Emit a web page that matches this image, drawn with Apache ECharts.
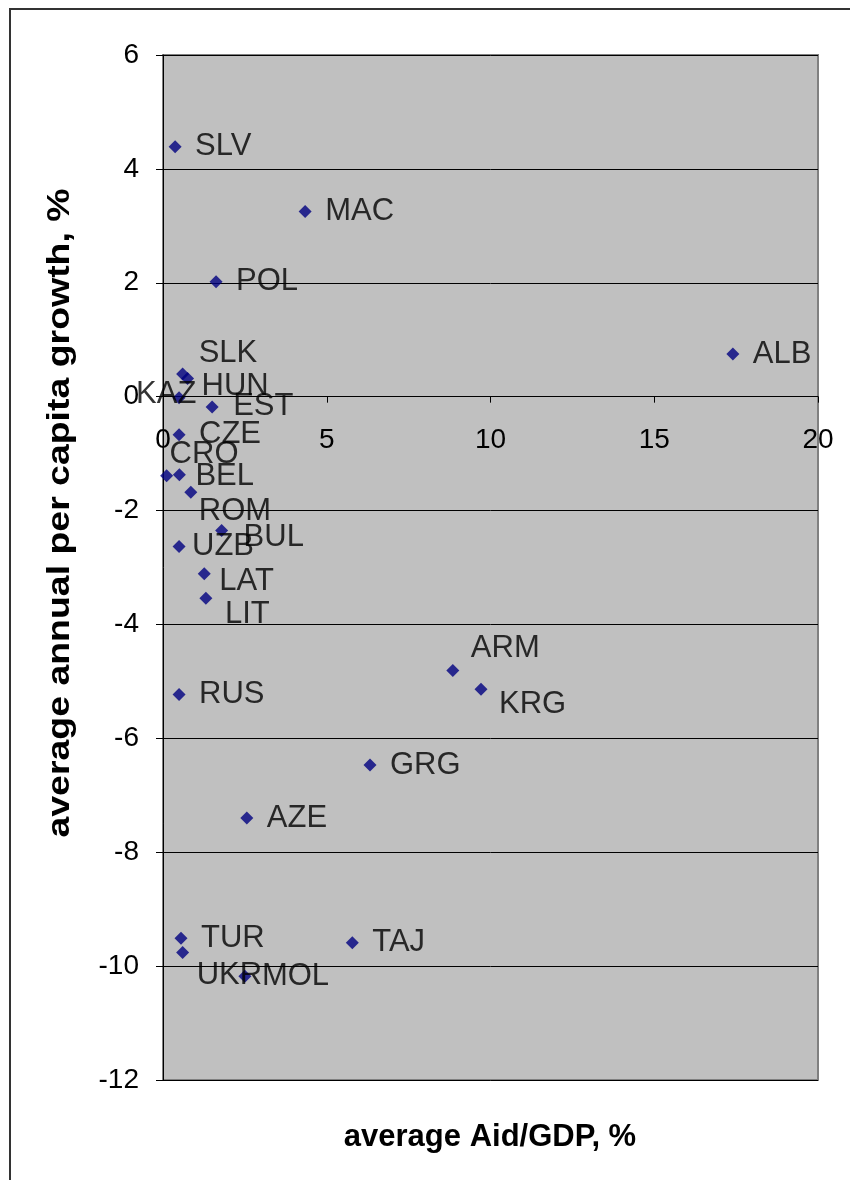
<!DOCTYPE html>
<html>
<head>
<meta charset="utf-8">
<script src="https://cdn.jsdelivr.net/npm/echarts@6/dist/echarts.min.js"></script>
<style>
  html, body { margin: 0; padding: 0; background: #ffffff; }
  #chart { width: 850px; height: 1180px; }
</style>
</head>
<body>
<div id="chart"></div>
<script>
// Transition economies: average aid/GDP vs. average annual per capita growth
const countries = ['SLV','MAC','POL','ALB','SLK','HUN','KAZ','EST','CZE','CRO','BEL','ROM','BUL','UZB','LAT','LIT','ARM','KRG','RUS','GRG','AZE','TUR','UKR','MOL','TAJ'];
const aidGdp    = [0.37, 4.34, 1.62, 17.4, 0.60, 0.75, 0.49, 1.50, 0.49, 0.11, 0.50, 0.85, 1.79, 0.49, 1.26, 1.31, 8.85, 9.71, 0.49, 6.32, 2.56, 0.55, 0.60, 2.50, 5.78];
const growth    = [4.39, 3.25, 2.02, 0.75, 0.40, 0.32, -0.02, -0.18, -0.67, -1.39, -1.37, -1.68, -2.35, -2.63, -3.11, -3.54, -4.81, -5.14, -5.23, -6.47, -7.40, -9.51, -9.76, -10.18, -9.59];
const xTicks = { min: 0, max: 20, step: 5 };
const yTicks = { min: -12, max: 6, step: 2 };

// label placement relative to each marker centre (px): [dx, dy]
const labelShift = {
  SLK: [16, -20], HUN: [14, 8], KAZ: [-43, -3], EST: [21, 0], CRO: [3, -21],
  BEL: [16, 2], ROM: [8, 19], BUL: [22, 7], UZB: [13, 0], LAT: [15, 8],
  LIT: [19, 16], ARM: [18, -22], KRG: [18, 15], UKR: [14, 23], MOL: [17, 0]
};
const defaultShift = [20, 0];

const points = countries.map((c, i) => ({ value: [aidGdp[i], growth[i]], name: c }));

const FONT = '"Liberation Sans", Arial, sans-serif';
const GRID = { left: 163, top: 55, width: 655, height: 1025 };
// distance from the bottom edge of the plot up to the y = 0 line
const zeroLift = GRID.height * (0 - yTicks.min) / (yTicks.max - yTicks.min);

const chart = echarts.init(document.getElementById('chart'), null, { renderer: 'canvas' });

chart.setOption({
  animation: false,
  backgroundColor: '#ffffff',
  grid: Object.assign({
    show: true, backgroundColor: '#C0C0C0', borderColor: '#808080', borderWidth: 2
  }, GRID),
  xAxis: {
    type: 'value', min: xTicks.min, max: xTicks.max, interval: xTicks.step,
    position: 'bottom', offset: -zeroLift,
    axisLine: { onZero: false, lineStyle: { color: '#000000', width: 1 } },
    axisTick: { show: true, inside: false, length: 6, lineStyle: { color: '#000000' } },
    axisLabel: { color: '#000000', fontSize: 28, fontFamily: FONT, margin: 30 },
    splitLine: { show: false }
  },
  yAxis: {
    type: 'value', min: yTicks.min, max: yTicks.max, interval: yTicks.step,
    axisLine: { show: true, onZero: false, lineStyle: { color: '#000000', width: 1 } },
    axisTick: { show: true, inside: false, length: 7, lineStyle: { color: '#000000' } },
    axisLabel: { color: '#000000', fontSize: 28, fontFamily: FONT, margin: 24 },
    splitLine: { show: true, lineStyle: { color: '#000000', width: 1 } }
  },
  series: [{
    type: 'scatter',
    symbol: 'diamond',
    symbolSize: 13,
    itemStyle: { color: '#000080' },
    data: points,
    z: 3,
    label: {
      show: true,
      position: 'inside',
      align: 'left',
      verticalAlign: 'middle',
      formatter: p => p.name,
      color: '#000000',
      fontSize: 31,
      fontFamily: FONT
    },
    labelLayout: function (params) {
      const s = labelShift[countries[params.dataIndex]] || defaultShift;
      return { dx: s[0], dy: s[1], hideOverlap: false };
    },
    emphasis: { disabled: true }
  }],
  graphic: [
    {
      type: 'rect', silent: true, z: -1,
      shape: { x: 10, y: 9, width: 900, height: 1200 },
      style: { fill: 'none', stroke: '#333333', lineWidth: 2 }
    },
    {
      type: 'text', x: 490, y: 1137,
      style: {
        text: 'average Aid/GDP, %', fill: '#000000',
        font: 'bold 31px ' + FONT, align: 'center', verticalAlign: 'middle'
      }
    },
    {
      type: 'text', x: 60, y: 513, rotation: Math.PI / 2, scaleX: 1.17,
      style: {
        text: 'average annual per capita growth, %', fill: '#000000',
        font: 'bold 32px ' + FONT, align: 'center', verticalAlign: 'middle'
      }
    }
  ]
});
</script>
</body>
</html>
